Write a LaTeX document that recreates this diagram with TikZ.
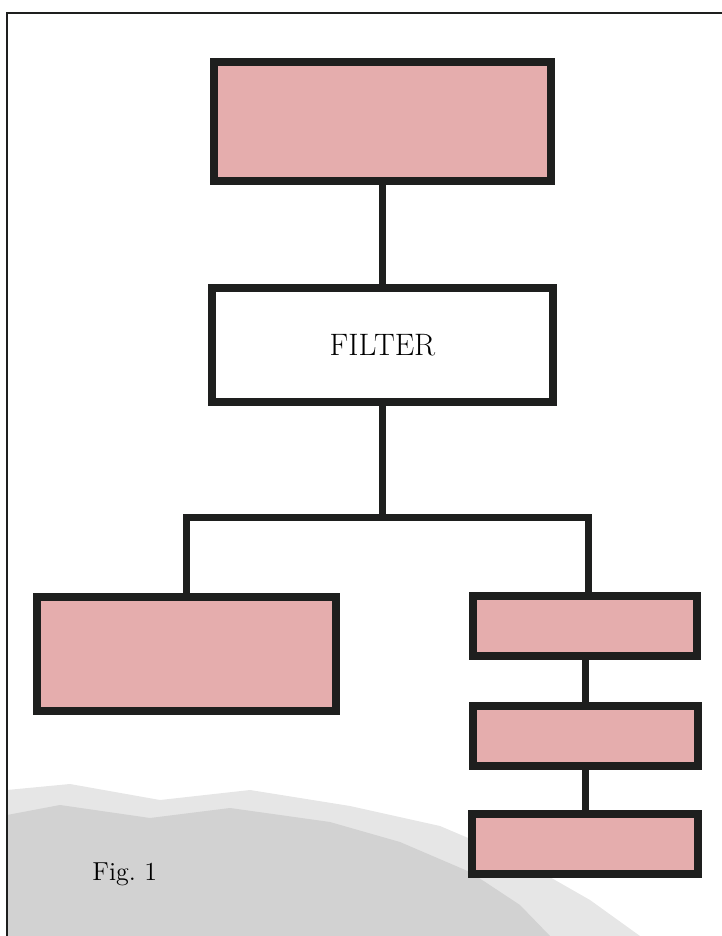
\documentclass[tikz,border=0pt]{standalone}
\usepackage{tikz}
\usetikzlibrary{positioning}
\definecolor{pinkfill}{HTML}{E5ADAD}
\definecolor{inkline}{HTML}{1E1F1E}
\definecolor{smudge}{HTML}{D2D2D2}

\begin{document}
\begin{tikzpicture}[x=0.5pt, y=-0.5pt,
  block/.style={rectangle, draw=inkline, line width=4pt, fill=pinkfill,
                inner sep=0pt},
  filterblock/.style={block, fill=white,
                      font=\fontsize{15.5}{18}\selectfont},
  wire/.style={draw=inkline, line width=3.5pt, line join=miter},
  frame/.style={draw=inkline, line width=0.8pt},
]
  \useasboundingbox (0,0) rectangle (722,936);
  % scan shading, bottom left
  \fill[smudge!55] (7,936) -- (7,790) -- (70,784) -- (160,800) -- (250,790)
    -- (350,806) -- (440,826) -- (520,860) -- (590,900) -- (640,936) -- cycle;
  \fill[smudge] (7,936) -- (7,815) -- (60,805) -- (150,818) -- (230,808)
    -- (330,822) -- (400,842) -- (470,872) -- (520,905) -- (550,936) -- cycle;
  \draw[frame] (7,936) -- (7,13) -- (722,13);

  \node[block, minimum width=168.5pt, minimum height=59.5pt] (top) at (382.5,121.5) {};
  \node[filterblock, minimum width=170.5pt, minimum height=57pt, below=49.5pt of top] (filter) {FILTER};
  \node[block, minimum width=149.5pt, minimum height=57pt] (left) at (186.5,654) {};
  \node[block, minimum width=112pt, minimum height=30pt] (r1) at (585,626) {};
  \node[block, minimum width=112.5pt, minimum height=30pt, below=21pt of r1] (r2) {};
  \node[block, minimum width=113pt, minimum height=30pt, below=20pt of r2] (r3) {};

  \coordinate (split) at (382.5,517);
  \draw[wire] (top) -- (filter);
  \draw[wire] (filter) -- (split);
  \draw[wire] (left.north) |- (split) -| ([xshift=1.5pt]r1.north);
  \draw[wire] (r1) -- (r2);
  \draw[wire] (r2) -- (r3);

  \node[anchor=base west, inner sep=0pt, font=\fontsize{13}{15}\selectfont] (fig) at (92,880) {Fig.~1};
\end{tikzpicture}
\end{document}
